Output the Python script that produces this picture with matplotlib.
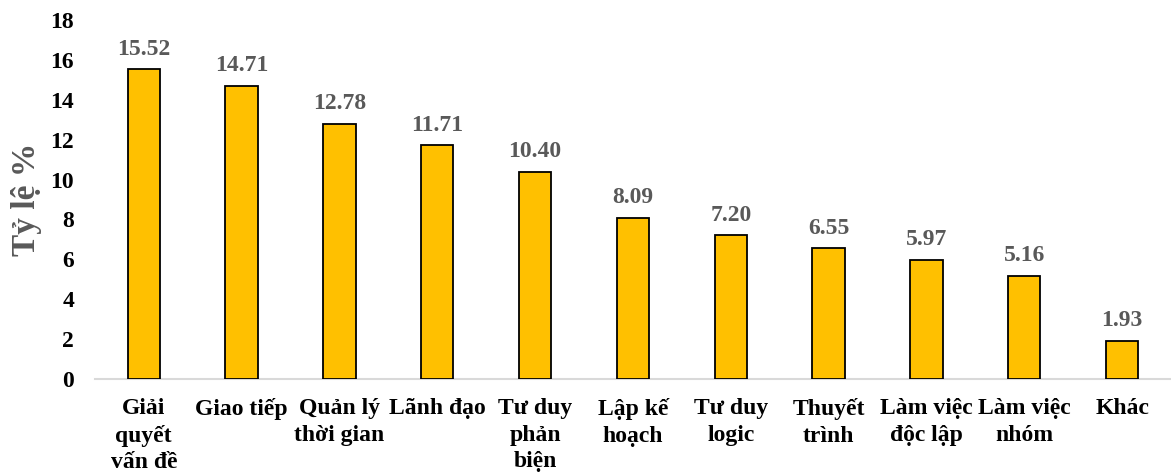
import matplotlib.pyplot as plt

ky_nang = ["Giải\nquyết\nvấn đề", "Giao tiếp", "Quản lý\nthời gian", "Lãnh đạo",
           "Tư duy\nphản\nbiện", "Lập kế\nhoạch", "Tư duy\nlogic", "Thuyết\ntrình",
           "Làm việc\nđộc lập", "Làm việc\nnhóm", "Khác"]
ty_le = [15.52, 14.71, 12.78, 11.71, 10.40, 8.09, 7.20, 6.55, 5.97, 5.16, 1.93]

plt.rcParams['font.family'] = ['Liberation Serif', 'DejaVu Serif']
plt.rcParams['font.weight'] = 'bold'

fig = plt.figure(figsize=(11.71, 4.75), dpi=100)
ax = fig.add_axes([0.081, 0.202, 0.919, 0.756])

x = range(len(ky_nang))
bars = ax.bar(x, ty_le, width=0.33, color='#FFC000', edgecolor='black', linewidth=1.3, zorder=3)

# nhãn giá trị trên đầu mỗi cột
for b, v in zip(bars, ty_le):
    ax.annotate(f"{v:.2f}", (b.get_x() + b.get_width() / 2, v), xytext=(0, 7),
                textcoords='offset points', ha='center', va='bottom',
                fontsize=17, fontweight='bold', color='#595959')

ax.set_xlim(-0.5, len(ky_nang) - 0.5)
ax.set_ylim(0, 18)
ax.set_yticks(range(0, 19, 2))
ax.set_xticks(list(x))
ax.set_xticklabels(ky_nang, fontsize=17, fontweight='bold', linespacing=1.32)
ax.tick_params(axis='y', length=0, pad=15, labelsize=17)
ax.tick_params(axis='x', length=0, pad=14)
for t in ax.get_yticklabels():
    t.set_fontweight('bold')

ax.set_ylabel("Tỷ lệ %", fontsize=24, fontweight='bold', color='#595959', labelpad=6)

for s in ['top', 'right', 'left']:
    ax.spines[s].set_visible(False)
ax.spines['bottom'].set_color('#D9D9D9')
ax.spines['bottom'].set_linewidth(1.5)

fig.savefig("out.png", dpi=100)
